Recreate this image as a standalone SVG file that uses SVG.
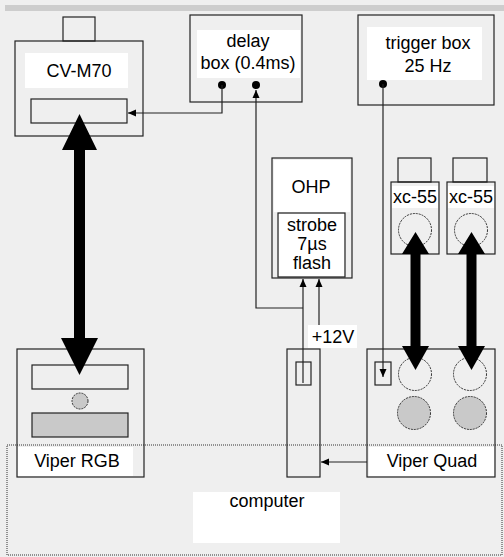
<svg xmlns="http://www.w3.org/2000/svg" width="504" height="557" viewBox="0 0 504 557">
  <defs>
    <style>
      .box { fill: none; stroke: #222; stroke-width: 1.2; }
      .lbl { fill: #fff; }
      .txt { font-family: "Liberation Sans", Arial, sans-serif; font-size: 18px; fill: #000; text-anchor: middle; }
      .dash { fill: none; stroke: #333; stroke-width: 1; stroke-dasharray: 2 1; }
      .grayfill { fill: #c9c9c9; stroke: #333; stroke-width: 1; stroke-dasharray: 2 1; }
      .wire { fill: none; stroke: #222; stroke-width: 1.2; }
      .thick { fill: #000; stroke: none; }
      .dot { fill: #000; }
    </style>
    <marker id="ah" markerUnits="userSpaceOnUse" markerWidth="9" markerHeight="8" refX="8" refY="4" orient="auto">
      <path d="M0,0.5 L8,4 L0,7.5 z" fill="#000"/>
    </marker>
  </defs>

  <rect x="0" y="0" width="504" height="557" fill="#efefef"/>
  <rect x="5" y="5" width="499" height="6" fill="#cdcdcd"/>

  <g id="computer">
    <rect x="193" y="492" width="147" height="51" class="lbl"/>
    <rect x="7" y="445" width="495" height="110" fill="none" stroke="#333" stroke-width="1" stroke-dasharray="1 1"/>
    <text x="267" y="507" class="txt">computer</text>
  </g>

  <g id="cv-m70">
    <rect x="25" y="53" width="103" height="35" class="lbl"/>
    <rect x="63" y="17" width="32" height="24" class="box"/>
    <rect x="15" y="41" width="128" height="95" class="box"/>
    <rect x="31" y="99" width="96" height="24" class="box"/>
    <text x="79" y="77" class="txt">CV-M70</text>
  </g>

  <g id="delay-box">
    <rect x="197" y="30" width="103" height="48" class="lbl"/>
    <rect x="190" y="15" width="112" height="87" class="box"/>
    <text x="248" y="47" class="txt">delay</text>
    <text x="248" y="69" class="txt">box (0.4ms)</text>
    <circle cx="222" cy="85" r="4" class="dot"/>
    <circle cx="256" cy="85" r="4" class="dot"/>
  </g>

  <g id="trigger-box">
    <rect x="367" y="27" width="115" height="53" class="lbl"/>
    <rect x="358" y="15" width="136" height="90" class="box"/>
    <text x="428" y="49" class="txt">trigger box</text>
    <text x="428" y="72" class="txt">25 Hz</text>
    <circle cx="383" cy="84" r="4" class="dot"/>
  </g>

  <g id="ohp">
    <rect x="274" y="160" width="76" height="52" class="lbl"/>
    <rect x="279" y="214" width="65" height="62" class="lbl"/>
    <rect x="272" y="158" width="80" height="120" class="box"/>
    <rect x="278" y="213" width="67" height="64" class="box"/>
    <text x="311" y="193" class="txt">OHP</text>
    <text x="312" y="231" class="txt">strobe</text>
    <text x="312" y="250" class="txt">7µs</text>
    <text x="312" y="269" class="txt">flash</text>
  </g>

  <g id="xc55-1">
    <rect x="392" y="186" width="46" height="22" class="lbl"/>
    <rect x="398" y="158" width="33" height="24" class="box"/>
    <rect x="391" y="182" width="48" height="72" class="box"/>
    <text x="415" y="203" class="txt">xc-55</text>
    <circle cx="415" cy="230" r="16.5" class="dash"/>
  </g>

  <g id="xc55-2">
    <rect x="448" y="186" width="46" height="22" class="lbl"/>
    <rect x="453" y="158" width="34" height="24" class="box"/>
    <rect x="447" y="182" width="48" height="72" class="box"/>
    <text x="471" y="203" class="txt">xc-55</text>
    <circle cx="471" cy="230" r="16.5" class="dash"/>
  </g>

  <g id="plus12v">
    <rect x="308" y="325" width="49" height="23" class="lbl"/>
    <text x="333" y="343" class="txt">+12V</text>
  </g>

  <g id="viper-rgb">
    <rect x="18" y="447" width="115" height="29" class="lbl"/>
    <rect x="17" y="349" width="127" height="128" class="box"/>
    <rect x="32" y="365" width="96" height="24" class="box"/>
    <circle cx="80" cy="401" r="8" class="grayfill"/>
    <rect x="32" y="413" width="96" height="24" fill="#c9c9c9" stroke="#222" stroke-width="1.2"/>
    <text x="77" y="467" class="txt">Viper RGB</text>
  </g>

  <g id="interface">
    <rect x="287" y="349" width="33" height="128" class="box"/>
    <rect x="296" y="362" width="15" height="23" class="box"/>
  </g>

  <g id="viper-quad">
    <rect x="369" y="447" width="125" height="29" class="lbl"/>
    <rect x="367" y="349" width="128" height="128" class="box"/>
    <rect x="375" y="362" width="16" height="23" class="box"/>
    <circle cx="415" cy="374" r="16.5" class="dash"/>
    <circle cx="470" cy="374" r="16.5" class="dash"/>
    <circle cx="414" cy="413" r="16.5" class="grayfill"/>
    <circle cx="470" cy="413" r="16.5" class="grayfill"/>
    <text x="432" y="467" class="txt">Viper Quad</text>
  </g>

  <g id="connectors">
    <path d="M222,85 V113 H128" class="wire" marker-end="url(#ah)"/>
    <path d="M303,383 V279" class="wire" marker-end="url(#ah)"/>
    <path d="M303,308 H256 V90" class="wire" marker-end="url(#ah)"/>
    <path d="M319,325 V279" class="wire" marker-end="url(#ah)"/>
    <path d="M383,84 V377" class="wire" marker-end="url(#ah)"/>
    <path d="M367,462 H321" class="wire" marker-end="url(#ah)"/>
    <polygon class="thick" points="79.5,114 97,150 85,150 85,338 98,338 79.5,375 61,338 74,338 74,150 62,150"/>
    <polygon class="thick" points="415.5,232 429,254 420.5,254 420.5,346 429,346 415.5,370 402,346 410.5,346 410.5,254 402,254"/>
    <polygon class="thick" points="471.5,232 485,254 476.5,254 476.5,346 485,346 471.5,370 458,346 466.5,346 466.5,254 458,254"/>
  </g>
</svg>
